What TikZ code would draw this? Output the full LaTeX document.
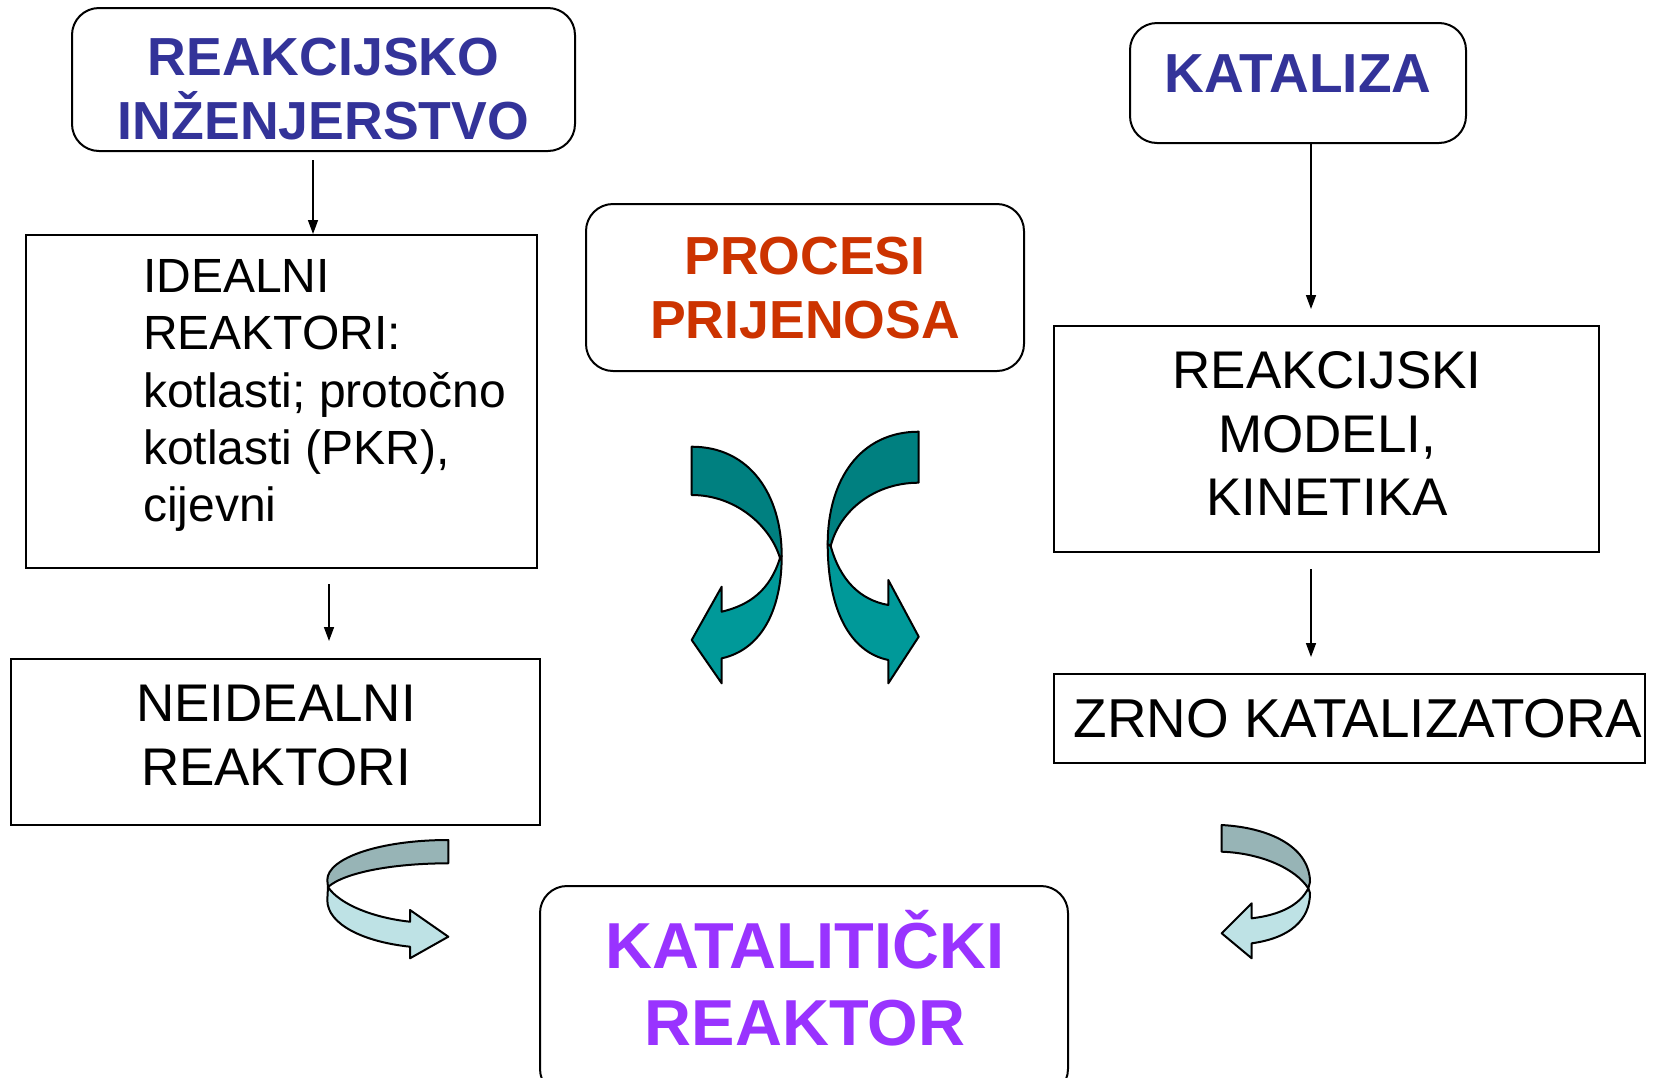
\documentclass[tikz,border=0pt]{standalone}
\usepackage{fontspec}
\setmainfont{Liberation Sans}
\usetikzlibrary{arrows.meta}
\definecolor{titleblue}{HTML}{333399}
\definecolor{procred}{HTML}{CC3300}
\definecolor{katpurple}{HTML}{9933FF}
\definecolor{tealdark}{HTML}{008080}
\definecolor{teallight}{HTML}{009999}
\definecolor{greydark}{HTML}{97B4B6}
\definecolor{bluelight}{HTML}{BEE2E5}

\begin{document}
\begin{tikzpicture}[x=1pt, y=-1pt,
  box/.style={draw, line width=2pt, inner sep=0pt},
  rbox/.style={box, rounded corners=27pt},
  title/.style={font=\fontsize{53.6}{63.5}\selectfont\bfseries, align=center, inner sep=0pt},
  plain/.style={font=\fontsize{53}{63.5}\selectfont, align=center, inner sep=0pt},
  link/.style={line width=1.5pt, -{Triangle[length=14pt, width=10pt]}},
  band/.style={draw, line width=2pt, line join=round}]
\path [use as bounding box, fill=white] (0,0) rectangle (1658,1077);

\node [rbox, minimum width=503pt, minimum height=143pt] (reakc) at (323.5,79.5) {};
\node [title, text=titleblue] (reakctxt) at (323.5,89) {REAKCIJSKO\\INŽENJERSTVO};
\node [rbox, minimum width=336pt, minimum height=120pt] (katal) at (1298,83) {};
\node [title, text=titleblue, font=\fontsize{55}{63.5}\selectfont\bfseries] (kataltxt) at (1298,74) {KATALIZA};
\node [rbox, minimum width=438pt, minimum height=167pt] (proc) at (805,287.5) {};
\node [title, text=procred] (proctxt) at (805,288) {PROCESI\\PRIJENOSA};
\node [rbox, minimum width=528pt, minimum height=210pt] (katreak) at (804,991) {};
\node [title, text=katpurple, font=\fontsize{65}{77}\selectfont\bfseries] (katreaktxt) at (805,978) {KATALITIČKI\\REAKTOR};

\node [box, minimum width=511pt, minimum height=333pt] (ideal) at (281.5,401.5) {};
\node [font=\fontsize{48}{57.4}\selectfont, align=left, anchor=north west, inner sep=0pt] (idealtxt) at (143,259) {IDEALNI\\REAKTORI:\\kotlasti; protočno\\kotlasti (PKR),\\cijevni};
\node [box, minimum width=529pt, minimum height=166pt] (neideal) at (275.5,742) {};
\node [plain] (neidealtxt) at (276,735.5) {NEIDEALNI\\REAKTORI};
\node [box, minimum width=545pt, minimum height=226pt] (model) at (1326.5,439) {};
\node [plain] (modeltxt) at (1327,433.5) {REAKCIJSKI\\MODELI,\\KINETIKA};
\node [box, minimum width=591pt, minimum height=89pt] (zrno) at (1349.5,718.5) {};
\node [plain, font=\fontsize{54.8}{63.5}\selectfont] (zrnotxt) at (1358,719) {ZRNO KATALIZATORA};

\draw [link] ([xshift=-10.5pt, yshift=-8pt]reakc.south) -- ([xshift=31.5pt]ideal.north);
\draw [link] ([xshift=47.5pt, yshift=-15pt]ideal.south) -- ([xshift=53.5pt, yshift=17pt]neideal.north);
\draw [link] ([xshift=13pt]katal.south) -- ([xshift=-15.5pt, yshift=16pt]model.north);
\draw [link] ([xshift=-15.5pt, yshift=-16pt]model.south) -- ([xshift=-38.5pt, yshift=16pt]zrno.north);

\filldraw [band, fill=teallight] (780,558) .. controls (770,590) and (750,605) .. (721.7,611.7) -- (721.7,586.7) -- (691.7,640) -- (721.7,683.3) -- (721.7,658.3) .. controls (760,650) and (781.7,612) .. (781.7,556) -- cycle;
\filldraw [band, fill=tealdark] (691.7,446.7) .. controls (750,446.7) and (781.7,495) .. (781.7,556) -- (780,558) .. controls (770,525) and (735,495) .. (691.7,495) -- cycle;
\filldraw [band, fill=teallight] (830.7,546) .. controls (840,580) and (860,600) .. (888.3,605) -- (888.3,580) -- (918.7,636.7) -- (888.3,683.3) -- (888.3,660) .. controls (850,652) and (827.7,610) .. (827.7,544) -- cycle;
\filldraw [band, fill=tealdark] (918.7,431.7) .. controls (860,431.7) and (827.7,480) .. (827.7,544) -- (830.7,546) .. controls (840,510) and (875,482.7) .. (918.7,482.7) -- cycle;

\filldraw [band, fill=bluelight] (328,887) .. controls (340,905) and (375,918) .. (410,921.7) -- (410,910) -- (448.3,936.7) -- (410,958.3) -- (410,946.7) .. controls (365,942) and (327.3,925) .. (327.3,900) -- cycle;
\filldraw [band, fill=greydark] (448.3,840) .. controls (380,840) and (327.3,858) .. (327.3,880) -- (328,887) .. controls (345,872) and (395,863.3) .. (448.3,863.3) -- cycle;
\filldraw [band, fill=bluelight] (1308.3,888.3) .. controls (1300,905) and (1280,915) .. (1251.7,918.3) -- (1251.7,903.3) -- (1221.7,933.3) -- (1251.7,958.3) -- (1251.7,943.3) .. controls (1290,938) and (1310,920) .. (1310,893) -- cycle;
\filldraw [band, fill=greydark] (1221.7,825) .. controls (1275,828) and (1310,850) .. (1310,882) -- (1308.3,888.3) .. controls (1295,868) and (1260,853) .. (1221.7,851.7) -- cycle;
\end{tikzpicture}
\end{document}
